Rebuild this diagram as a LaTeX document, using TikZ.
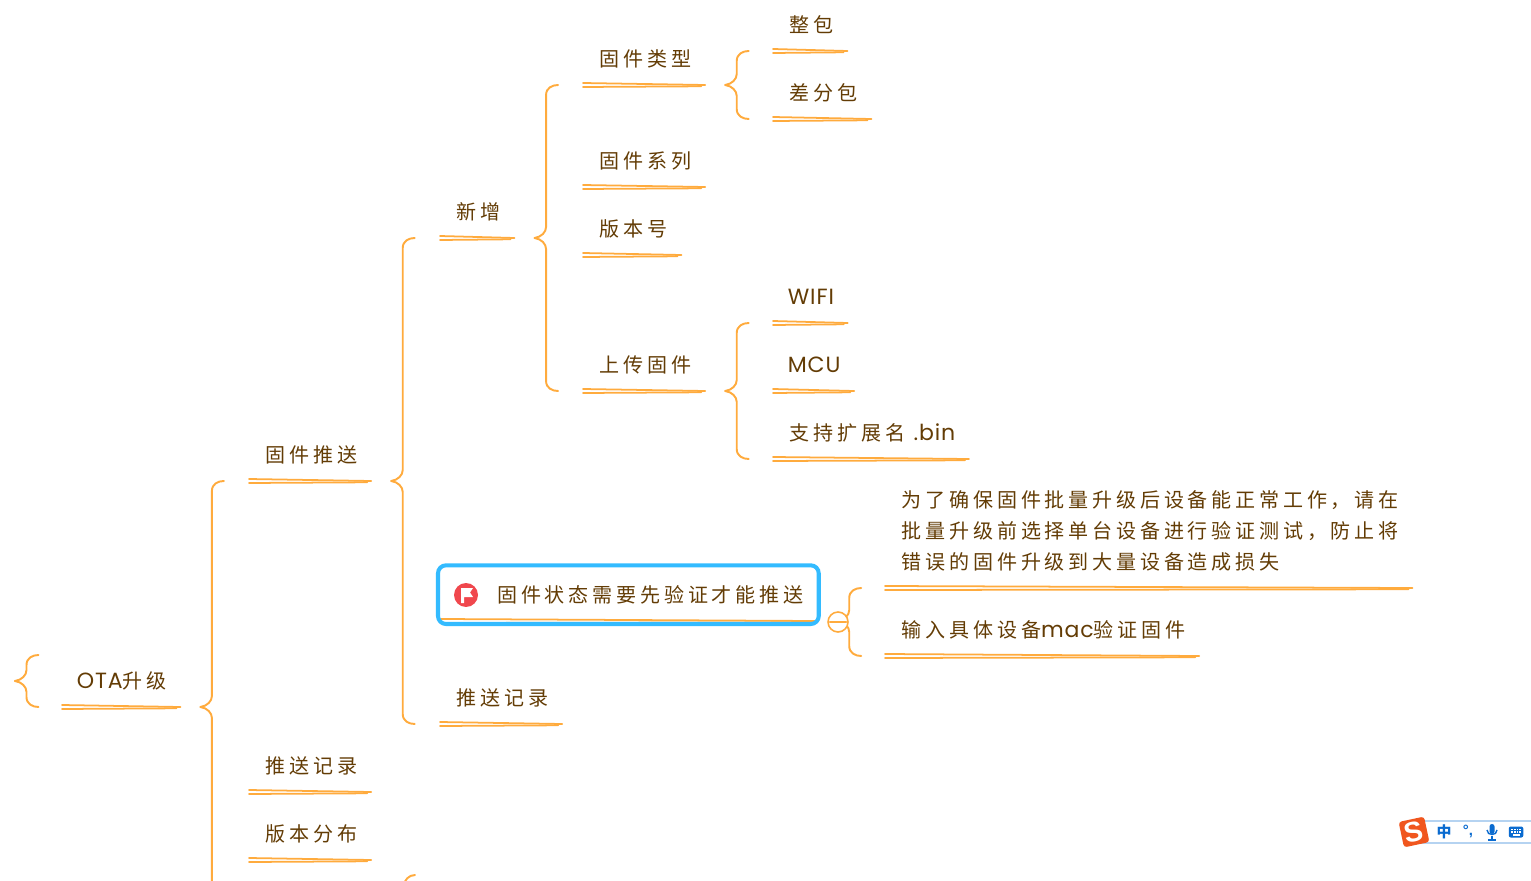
\documentclass[tikz,border=0pt]{standalone}
\usepackage{fontspec}
\usepackage{xcolor}
\setmainfont{Noto Sans CJK SC}[LetterSpace=19]
\newfontfamily\latinfont{Poppins}[LetterSpace=4,Scale=1.1]
\newfontfamily\imefont{Liberation Sans}
\usetikzlibrary{calc, fit, positioning}
\definecolor{topicbrown}{HTML}{633C05}
\definecolor{lineorange}{HTML}{FFAB3D}
\definecolor{keyblue}{HTML}{33BBFF}
\definecolor{flagred}{HTML}{F0474D}
\definecolor{imeblue}{HTML}{0A6BD0}
\definecolor{imeorange}{HTML}{F0561E}
\tikzset{
    topicbase/.style={anchor=south west, inner xsep=0.27cm, inner ysep=0pt, text=topicbrown,
        font=\fontsize{11.4}{17.6}\selectfont},
    topic/.style={topicbase, minimum height=1.04cm, text height=0.33cm, text depth=0.03cm},
    underline/.style={draw=lineorange, line width=1pt, line cap=round},
    braceline/.style={draw=lineorange, line width=1.1pt, line cap=round},
    keyframe/.style={draw=keyblue, line width=2.3pt, rounded corners=0.16cm, inner sep=0.06cm},
    foldmark/.style={circle, draw=lineorange, line width=0.9pt, fill=white, minimum size=0.4cm, inner sep=0pt},
    imeicon/.style={text=imeblue, inner sep=0pt}
}
\newcommand{\topicline}[1]{
    \draw[underline] ($(#1.south west)+(0,-2)$) -- (#1.south east);
    \draw[underline] ($(#1.south west)+(0,2)$) -- ($(#1.south east)+(-4,1.3)$);
}
\newcommand{\bracepath}[3]{
    \coordinate (bt) at (#1);
    \coordinate (bs) at ($(bt)+(11.5,0)$);
    \coordinate (bf) at (bs |- #2);
    \coordinate (bl) at (bs |- #3);
    \draw[braceline] (bt) .. controls +(7,-1) and +(0,5) .. ($(bs)+(0,-11)$) -- ($(bf)+(0,10)$)
        .. controls +(0,-7) and +(-6,0) .. ($(bf)+(12,0)$);
    \draw[braceline] (bt) .. controls +(7,1) and +(0,-5) .. ($(bs)+(0,11)$) -- ($(bl)+(0,-10)$)
        .. controls +(0,7) and +(-6,0) .. ($(bl)+(12,0)$);
}
\newcommand{\topicbrace}[3]{\bracepath{$(#1.south east)+(20,0)$}{#2.south west}{#3.south west}}
\newcommand{\lpad}{\hspace*{0.06cm}}
\newcommand{\lback}{\hspace*{-0.04cm}}

\begin{document}
\begin{tikzpicture}[x=0.02cm, y=-0.02cm]
    \useasboundingbox (0,0) rectangle (1531,881);
    \clip (0,0) rectangle (1531,881);
    % topics, each with its double line
    \foreach \nm/\x/\y/\txt in {
        ota/62/707/{\lback{\latinfont OTA}升级},
        pushfw/249/481/固件推送, pushrec/249/792/推送记录, dist/249/860/版本分布,
        addfw/440/238/新增, pushlog/440/724/推送记录,
        fwtype/583/85/固件类型, fwseries/583/187/固件系列, version/583/255/版本号, upload/583/391/上传固件,
        whole/773/51/整包, diffpack/773/119/差分包,
        wifi/773/323/{\lback{\latinfont WIFI}}, mcu/773/391/{\lback{\latinfont MCU}},
        ext/773/459/{支持扩展名 {\latinfont .bin}},
        inputdev/885/656/{输入具体设备{\latinfont mac}验证固件}} {
        \node[topic] (\nm) at (\x,\y) {\lpad\txt};
        \topicline{\nm}
    }
    \node[topicbase, minimum height=2.28cm, align=left] (note) at (885,588)
        {\lpad 为了确保固件批量升级后设备能正常工作，请在\\\lpad 批量升级前选择单台设备进行验证测试，防止将\\\lpad 错误的固件升级到大量设备造成损失};
    \topicline{note}
    \node[topic] (keytopic) at (441,621) {\hspace*{0.85cm}固件状态需要先验证才能推送\hspace*{-0.03cm}};
    \topicline{keytopic}
    \node[keyframe, fit=(keytopic)] (keybox) {};
    % flag
    \node[circle, fill=flagred, minimum size=0.48cm, inner sep=0pt] (flag) at (466,595) {};
    \fill[white] (461,588) -- (473,588) -- (470,592.5) -- (473,597) -- (464,597) -- (464,603) -- (461,603) -- cycle;
    % next topic lies below the page
    \node[topic] (nexttopic) at (249,1000) {};
    % braces
    \coordinate (roottip) at (15,681);
    \coordinate (roottop) at (38,655);
    \bracepath{roottip}{roottop}{ota.south west}
    \topicbrace{ota}{pushfw}{nexttopic}
    \topicbrace{pushfw}{addfw}{pushlog}
    \topicbrace{addfw}{fwtype}{upload}
    \topicbrace{fwtype}{whole}{diffpack}
    \topicbrace{upload}{wifi}{ext}
    \bracepath{$(keytopic.south east)+(22,0)$}{note.south west}{inputdev.south west}
    \coordinate (nextbrace) at (415,875);
    \draw[braceline] (nextbrace) .. controls +(-6,0) and +(0,-6) .. +(-11,11);
    \node[foldmark] (fold) at (838,622) {};
    \draw[underline, shorten >=0.05cm, shorten <=0.05cm] (fold.west) -- (fold.east);
    % input method bar
    \node[draw=imeblue!30, fill=white, line width=0.7pt, minimum width=2.6cm, minimum height=0.44cm, inner sep=0pt, anchor=west] (imebar) at (1412,832) {};
    \node[rotate=12, fill=imeorange, rounded corners=0.06cm, minimum size=0.52cm, inner sep=0pt, text=white,
        font=\imefont\bfseries\fontsize{16}{16}\selectfont] (imelogo) at (1414,832) {S};
    \node[imeicon, font=\bfseries\fontsize{8.5}{9}\selectfont] (imezh) at (1444,832) {中};
    \node[imeicon, font=\imefont\bfseries\fontsize{8.5}{9}\selectfont] (imedot) at (1468,831) {°,};
    \node[fill=imeblue, rounded corners=0.05cm, minimum width=0.1cm, minimum height=0.2cm, inner sep=0pt] (imemic) at (1492,829) {};
    \draw[imeblue, line width=0.8pt] (1487,830) .. controls +(0,6) and +(0,6) .. (1497,830);
    \draw[imeblue, line width=0.8pt] (1492,836) -- (1492,840) (1488,840) -- (1496,840);
    \node[fill=imeblue, rounded corners=0.04cm, minimum width=0.29cm, minimum height=0.22cm, inner sep=0pt] (imekey) at (1516,832) {};
    \foreach \kx in {-4,-1.3,1.3,4} {
        \foreach \ky in {-2.5,0} {
            \fill[white] ($(imekey)+(\kx,\ky)$) +(-0.8,-0.8) rectangle +(0.8,0.8);
        }
    }
    \fill[white] ($(imekey)+(-3.5,2.2)$) rectangle ($(imekey)+(3.5,3.6)$);
\end{tikzpicture}
\end{document}
